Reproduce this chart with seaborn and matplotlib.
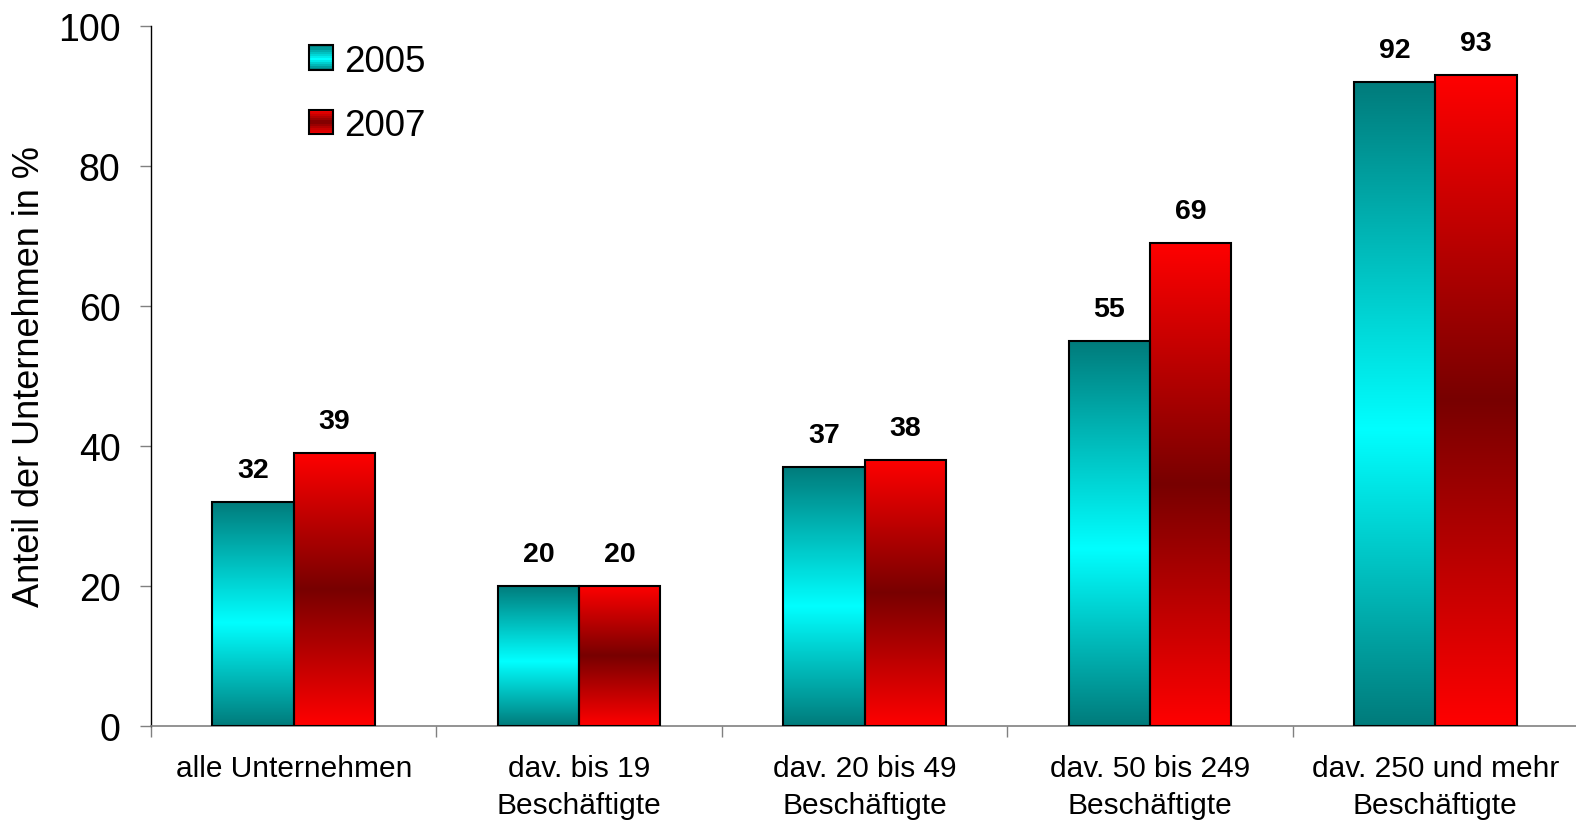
import numpy as np
import pandas as pd
import matplotlib
matplotlib.use("Agg")
import matplotlib.pyplot as plt
from matplotlib.colors import LinearSegmentedColormap
from matplotlib.legend_handler import HandlerBase
from matplotlib.patches import Rectangle
import seaborn as sns

CATEGORIES = [
    "alle Unternehmen",
    "dav. bis 19\nBeschäftigte",
    "dav. 20 bis 49\nBeschäftigte",
    "dav. 50 bis 249\nBeschäftigte",
    "dav. 250 und mehr\nBeschäftigte",
]
YEARS = ["2005", "2007"]
VALUES_2005 = [32, 20, 37, 55, 92]
VALUES_2007 = [39, 20, 38, 69, 93]
Y_TICKS = [0, 20, 40, 60, 80, 100]
Y_LABEL = "Anteil der Unternehmen in %"

# vertical gradients, position 0 = bar bottom, 1 = bar top
CMAPS = {
    "2005": LinearSegmentedColormap.from_list(
        "teal", [(0, "#007b7b"), (0.46, "#00ffff"), (1, "#007b7b")]
    ),
    "2007": LinearSegmentedColormap.from_list(
        "red", [(0, "#ff0000"), (0.5, "#780000"), (1, "#ff0000")]
    ),
}


class GradientHandler(HandlerBase):
    def __init__(self, cmap, **kw):
        super().__init__(**kw)
        self.cmap = cmap

    def create_artists(self, legend, orig_handle, xdescent, ydescent,
                       width, height, fontsize, trans):
        size = height * 0.95
        x0 = -xdescent + width - size
        y0 = -ydescent + (height - size) / 2
        arts = []
        n = 12
        for i in range(n):
            c = self.cmap((i + 0.5) / n)
            arts.append(Rectangle((x0, y0 + size * i / n), size, size / n,
                                  facecolor=c, edgecolor="none", transform=trans))
        arts.append(Rectangle((x0, y0), size, size, facecolor="none",
                              edgecolor="black", linewidth=1.5, transform=trans))
        return arts


df = pd.DataFrame({
    "cat": CATEGORIES * 2,
    "year": [YEARS[0]] * len(CATEGORIES) + [YEARS[1]] * len(CATEGORIES),
    "value": VALUES_2005 + VALUES_2007,
})

sns.set_style("white")
plt.rcParams["font.family"] = ["Liberation Sans", "DejaVu Sans"]
plt.rcParams["text.color"] = "black"
plt.rcParams["axes.labelcolor"] = "black"
plt.rcParams["xtick.color"] = "black"
plt.rcParams["ytick.color"] = "black"

fig = plt.figure(figsize=(15.76, 8.29), dpi=100)
ax = fig.add_axes([0.0958, 0.123, 0.9055, 0.8444])

sns.barplot(data=df, x="cat", y="value", hue="year", order=CATEGORIES,
            hue_order=YEARS, width=0.57, gap=0, ax=ax, legend=False,
            edgecolor="black", linewidth=1.5, saturation=1)

grad = np.linspace(0, 1, 256).reshape(-1, 1)
for year, cont in zip(YEARS, ax.containers):
    for bar in cont:
        x0, w, h = bar.get_x(), bar.get_width(), bar.get_height()
        im = ax.imshow(grad, cmap=CMAPS[year], origin="lower", aspect="auto",
                       extent=(x0, x0 + w, 0, h), zorder=2, interpolation="bilinear")
        im.set_clip_path(bar)
        bar.set_facecolor("none")
        bar.set_zorder(3)
    ax.bar_label(cont, fmt="%d", padding=14, fontsize=20.5, fontweight="bold",
                 color="black")

ax.set_xlim(-0.5, 4.5)
ax.set_ylim(0, 100)
ax.set_yticks(Y_TICKS)
ax.tick_params(axis="y", labelsize=27, length=8, width=1, color="#808080",
               labelcolor="black", direction="out", left=True, pad=14)
ax.set_xticks(range(len(CATEGORIES)))
ax.set_xticklabels(CATEGORIES, fontsize=21.5, linespacing=1.42)
ax.tick_params(axis="x", which="major", length=0, pad=20, labelcolor="black")
ax.set_xticks(np.arange(-0.5, 4.6, 1), minor=True)
ax.tick_params(axis="x", which="minor", length=8, width=1, color="#808080",
               direction="out", bottom=True)
ax.set_xlabel("")
ax.set_ylabel(Y_LABEL, fontsize=26, labelpad=8, color="black")

for s in ["top", "right"]:
    ax.spines[s].set_visible(False)
ax.spines["left"].set_color("black")
ax.spines["left"].set_linewidth(1)
ax.spines["bottom"].set_color("#808080")
ax.spines["bottom"].set_linewidth(1.2)

handles = [Rectangle((0, 0), 1, 1) for _ in YEARS]
ax.legend(handles, YEARS, loc="upper left", bbox_to_anchor=(0.089, 1.017),
          frameon=False, fontsize=26.5, labelspacing=0.79, handlelength=0.7,
          handletextpad=0.3, borderpad=0.3,
          handler_map={h: GradientHandler(CMAPS[y]) for h, y in zip(handles, YEARS)})

fig.savefig("out.png", dpi=100)
